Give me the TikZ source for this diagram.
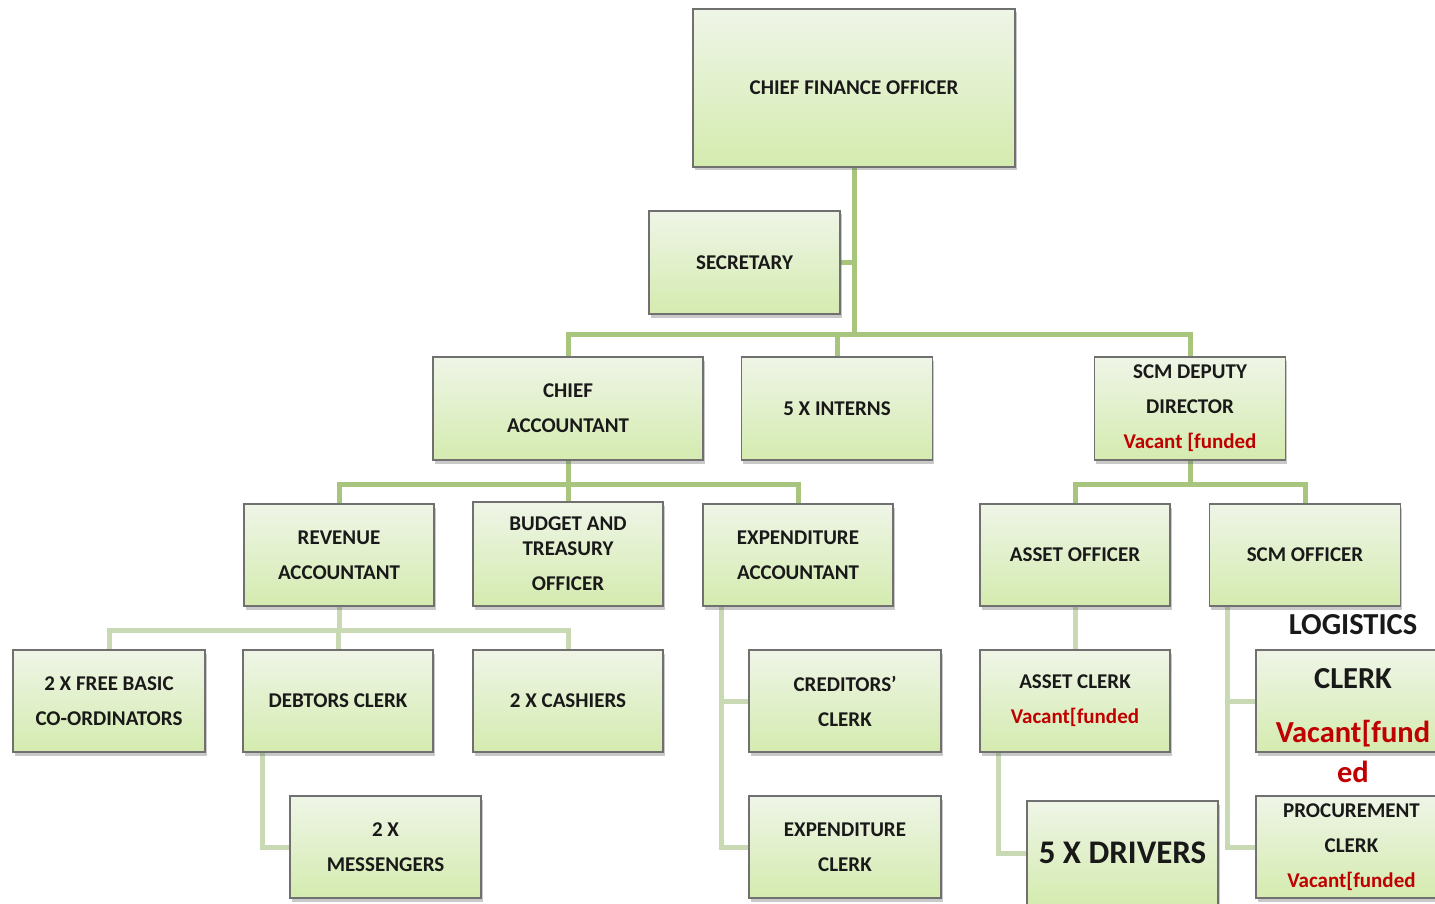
\documentclass[tikz,border=0pt]{standalone}
\usepackage{fontspec}
\setmainfont{Carlito}
\usetikzlibrary{shadows,backgrounds,calc}
\definecolor{boxtop}{HTML}{EFF5E7}
\definecolor{boxbot}{HTML}{D4EBAF}
\definecolor{boxline}{HTML}{707070}
\definecolor{connA}{HTML}{A7C57C}
\definecolor{connB}{HTML}{C8D9B3}
\definecolor{vac}{HTML}{C00000}
\tikzset{
  orgbox/.style={draw=boxline, line width=1.4pt, top color=boxtop, bottom color=boxbot,
    align=center, inner sep=0pt, text=black!90,
    font=\bfseries\fontsize{21}{35}\selectfont,
    drop shadow={shadow xshift=1.5pt, shadow yshift=-3.5pt, opacity=0.35, fill=black!60}},
  conA/.style={draw=connA, line width=5pt},
  conB/.style={draw=connB, line width=5pt},
  plaintext/.style={align=center, inner sep=0pt, text=black!90},
}
\newcommand{\vacant}[1]{\textcolor{vac}{#1}}
\begin{document}
\begin{tikzpicture}[x=1pt,y=-1pt]
\useasboundingbox (0,0) rectangle (1435,904);

% boxes
\node[orgbox, minimum width=322pt, minimum height=158pt] (cfo) at (854,88) {CHIEF FINANCE OFFICER};
\node[orgbox, minimum width=191pt, minimum height=103pt] (sec) at (744.5,262.5) {SECRETARY};
\node[orgbox, minimum width=270pt, minimum height=103pt] (chief) at (568,408.5) {CHIEF\\ACCOUNTANT};
\node[orgbox, minimum width=191pt, minimum height=103pt] (interns) at (837,408.5) {5 X INTERNS};
\node[orgbox, minimum width=191pt, minimum height=103pt] (scmdd) at (1190,408.5) {SCM DEPUTY\\DIRECTOR\\\vacant{Vacant [funded}};
\node[orgbox, minimum width=190pt, minimum height=102pt] (rev) at (339,555) {REVENUE\\ACCOUNTANT};
\node[orgbox, minimum width=190pt, minimum height=104pt] (budget) at (568,554) {BUDGET AND\\[-10pt]TREASURY\\OFFICER};
\node[orgbox, minimum width=190pt, minimum height=102pt] (expacc) at (798,555) {EXPENDITURE\\ACCOUNTANT};
\node[orgbox, minimum width=190pt, minimum height=102pt] (assetoff) at (1075,555) {ASSET OFFICER};
\node[orgbox, minimum width=191pt, minimum height=102pt] (scmoff) at (1305,555) {SCM OFFICER};
\node[orgbox, minimum width=192pt, minimum height=102pt] (freebasic) at (109,701) {2 X FREE BASIC\\CO-ORDINATORS};
\node[orgbox, minimum width=190pt, minimum height=102pt] (debtors) at (338,701) {DEBTORS CLERK};
\node[orgbox, minimum width=190pt, minimum height=102pt] (cashiers) at (568,701) {2 X CASHIERS};
\node[orgbox, minimum width=191pt, minimum height=102pt] (messengers) at (385.5,847) {2 X\\MESSENGERS};
\node[orgbox, minimum width=192pt, minimum height=102pt] (creditors) at (845,701) {CREDITORS'\\CLERK};
\node[orgbox, minimum width=192pt, minimum height=102pt] (expclerk) at (845,847) {EXPENDITURE\\CLERK};
\node[orgbox, minimum width=190pt, minimum height=102pt] (assetclerk) at (1075,701) {ASSET CLERK\\\vacant{Vacant[funded}};
\node[orgbox, minimum width=191pt, minimum height=104pt, font=\bfseries\fontsize{33}{38}\selectfont] (drivers) at (1122.5,853) {5 X DRIVERS};
\node[orgbox, minimum width=191pt, minimum height=102pt] (logistics) at (1351.5,701) {};
\node[orgbox, minimum width=191pt, minimum height=102pt] (procurement) at (1351.5,847) {PROCUREMENT\\CLERK\\\vacant{Vacant[funded}};
\node[plaintext, font=\bfseries\fontsize{30.5}{54}\selectfont] (logisticstext) at (1353,699) {LOGISTICS\\CLERK\\\vacant{Vacant[fund}\\[-14pt]\vacant{ed}};

% junctions
\coordinate (j1) at ($(cfo.south)+(0,167)$);
\coordinate (j2) at ($(chief.south)+(0,24)$);
\coordinate (j3) at ($(scmdd.south)+(0,24)$);
\coordinate (j4) at ($(rev.south)+(0,24)$);
\coordinate (debtap) at ([xshift=20pt]debtors.south west);
\coordinate (expap) at ([xshift=19pt]expacc.south west);
\coordinate (acap) at ([xshift=19pt]assetclerk.south west);
\coordinate (scmap) at ([xshift=19pt]scmoff.south west);

\begin{scope}[on background layer]
\fill[white] (0,0) rectangle (1435,904);
\draw[conA] (cfo.south) -- (j1);
\draw[conA] (sec.east) -- (sec.east -| cfo.south);
\draw[conA] (chief.north) -- (chief.north |- j1) -- (scmdd.north |- j1) -- (scmdd.north);
\draw[conA] (interns.north) -- (interns.north |- j1);
\draw[conA] (chief.south) -- (j2);
\draw[conA] (rev.north) -- (rev.north |- j2) -- (expacc.north |- j2) -- (expacc.north);
\draw[conA] (budget.north) -- (budget.north |- j2);
\draw[conA] (scmdd.south) -- (j3);
\draw[conA] (assetoff.north) -- (assetoff.north |- j3) -- (scmoff.north |- j3) -- (scmoff.north);
\draw[conB] (rev.south) -- (j4);
\draw[conB] (freebasic.north) -- (freebasic.north |- j4) -- (cashiers.north |- j4) -- (cashiers.north);
\draw[conB] (debtors.north) -- (debtors.north |- j4);
\draw[conB] (debtap) |- (messengers.west);
\draw[conB] (expap) |- (expclerk.west);
\draw[conB] (expap) |- (creditors.west);
\draw[conB] (assetoff.south) -- (assetclerk.north);
\draw[conB] (acap) |- (drivers.west);
\draw[conB] (scmap) |- (procurement.west);
\draw[conB] (scmap) |- (logistics.west);
\end{scope}
\end{tikzpicture}
\end{document}
